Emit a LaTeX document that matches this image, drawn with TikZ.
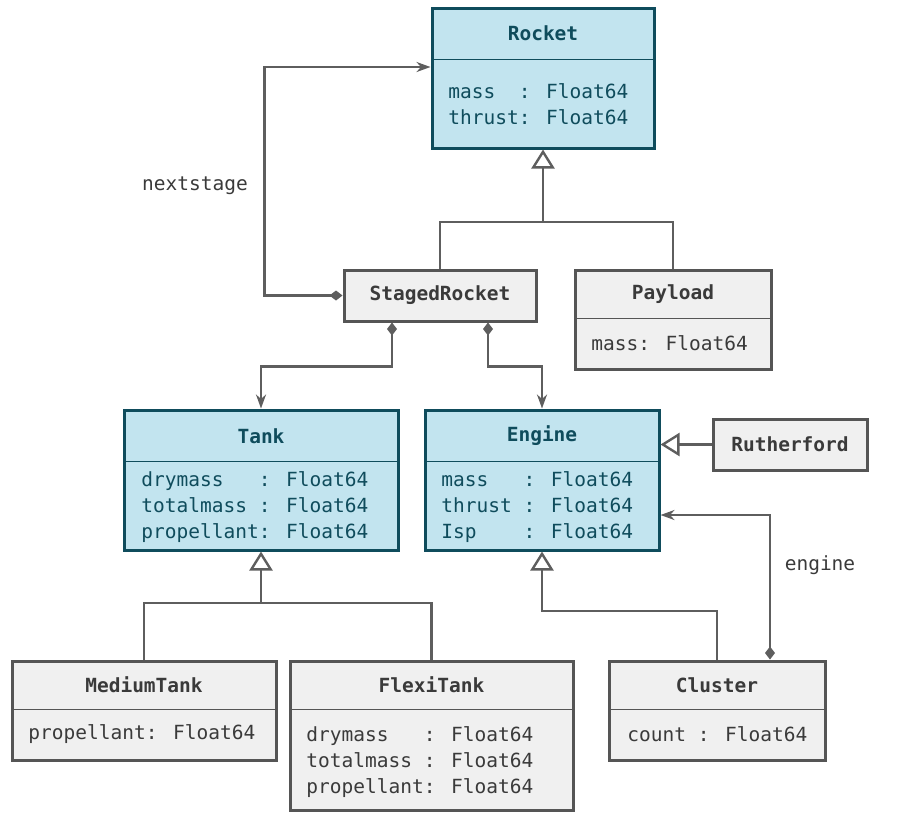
\documentclass[tikz,border=0pt]{standalone}
\usepackage{fontspec}
\newfontfamily\umlfont{DejaVu Sans Mono}
\usetikzlibrary{arrows.meta}
\definecolor{bluefill}{HTML}{C2E4EF}
\definecolor{blueline}{HTML}{0F4C5C}
\definecolor{grayfill}{HTML}{F0F0F0}
\definecolor{grayline}{HTML}{555555}
\definecolor{graytext}{HTML}{3A3A3A}
\definecolor{wire}{HTML}{5E5E5E}
\begin{document}
\begin{tikzpicture}[x=0.5pt,y=-0.5pt,
  every node/.style={font=\umlfont\fontsize{9.75pt}{13pt}\selectfont},
  bluebox/.style={draw=blueline,fill=bluefill,line width=1.5pt},
  graybox/.style={draw=grayline,fill=grayfill,line width=1.5pt},
  btitle/.style={text=blueline,font=\umlfont\bfseries\fontsize{9.75pt}{13pt}\selectfont},
  gtitle/.style={text=graytext,font=\umlfont\bfseries\fontsize{9.75pt}{13pt}\selectfont},
  battr/.style={text=blueline,align=left,anchor=west,inner sep=0pt},
  gattr/.style={text=graytext,align=left,anchor=west,inner sep=0pt},
  bdiv/.style={draw=blueline,line width=0.5pt},
  gdiv/.style={draw=grayline,line width=0.5pt},
  wireline/.style={draw=wire,line width=1.2pt},
  gen/.style={wireline,-{Triangle[open,length=9.5pt,width=11.5pt,fill=white]}},
  comp/.style={wireline,{Diamond[length=6.5pt,width=5pt]}-{Stealth[length=7pt,width=5pt]}}]
\useasboundingbox (0,0) rectangle (900,820);

\node[bluebox,minimum width=111pt,minimum height=70pt] (rocket) at (543,78) {};
\node[btitle] (rocket-t) at (543,33) {Rocket};
\draw[bdiv] (432,59) -- (654,59);
\node[battr] (rocket-a) at (448,104) {mass~~: Float64\\thrust: Float64};

\node[graybox,minimum width=96pt,minimum height=25.5pt] (staged) at (440,295.5) {};
\node[gtitle] (staged-t) at (440,295) {StagedRocket};

\node[graybox,minimum width=98pt,minimum height=49.5pt] (payload) at (673,319.5) {};
\node[gtitle] (payload-t) at (673,294) {Payload};
\draw[gdiv] (575,318) -- (771,318);
\node[gattr] (payload-a) at (591,343) {mass: Float64};

\node[bluebox,minimum width=137pt,minimum height=70pt] (tank) at (261,480) {};
\node[btitle] (tank-t) at (261,436) {Tank};
\draw[bdiv] (124,461) -- (398,461);
\node[battr] (tank-a) at (141,507) {drymass~~~: Float64\\totalmass~: Float64\\propellant: Float64};

\node[bluebox,minimum width=117pt,minimum height=70pt] (engine) at (542,480) {};
\node[btitle] (engine-t) at (542,436) {Engine};
\draw[bdiv] (425,461) -- (659,461);
\node[battr] (engine-a) at (441,507) {mass~~~: Float64\\thrust~: Float64\\Isp~~~~: Float64};

\node[graybox,minimum width=77pt,minimum height=25.5pt] (ruth) at (790,444.5) {};
\node[gtitle] (ruth-t) at (790,444) {Rutherford};

\node[graybox,minimum width=132pt,minimum height=49.5pt] (medium) at (144,710.5) {};
\node[gtitle] (medium-t) at (144,685) {MediumTank};
\draw[gdiv] (12,709) -- (276,709);
\node[gattr] (medium-a) at (28,734) {propellant: Float64};

\node[graybox,minimum width=141.5pt,minimum height=74.5pt] (flexi) at (431.5,735.5) {};
\node[gtitle] (flexi-t) at (431.5,685) {FlexiTank};
\draw[gdiv] (290,709) -- (573,709);
\node[gattr] (flexi-a) at (306,762) {drymass~~~: Float64\\totalmass~: Float64\\propellant: Float64};

\node[graybox,minimum width=108pt,minimum height=49.5pt] (cluster) at (717,710.5) {};
\node[gtitle] (cluster-t) at (717,685) {Cluster};
\draw[gdiv] (609,709) -- (825,709);
\node[gattr] (cluster-a) at (627,734) {count : Float64};

\coordinate (j1) at (543,222);
\draw[wireline] (staged.north) |- (j1) -| (payload.north);
\draw[gen] (j1) -- (rocket.south);
\coordinate (j2) at (261,603);
\draw[wireline] (medium.north) |- (j2) -| (flexi.north);
\draw[gen] (j2) -- (tank.south);
\draw[gen] (cluster.north) |- (542,611) -- (engine.south);
\draw[gen] (ruth.west) -- (engine.east |- ruth.west);

\draw[comp] (staged.west) -- ++(-78,0) |- ([yshift=5.5pt]rocket.west);
\draw[comp] ([xshift=-24pt]staged.south) -- ++(0,44) -| (tank.north);
\draw[comp] ([xshift=24pt]staged.south) -- ++(0,44) -| (engine.north);
\draw[comp] ([xshift=26.5pt]cluster.north) |- ([yshift=-17.5pt]engine.east);

\node[text=graytext] (nextstage) at (195,186) {nextstage};
\node[text=graytext] (engine-l) at (820,565) {engine};
\end{tikzpicture}
\end{document}
